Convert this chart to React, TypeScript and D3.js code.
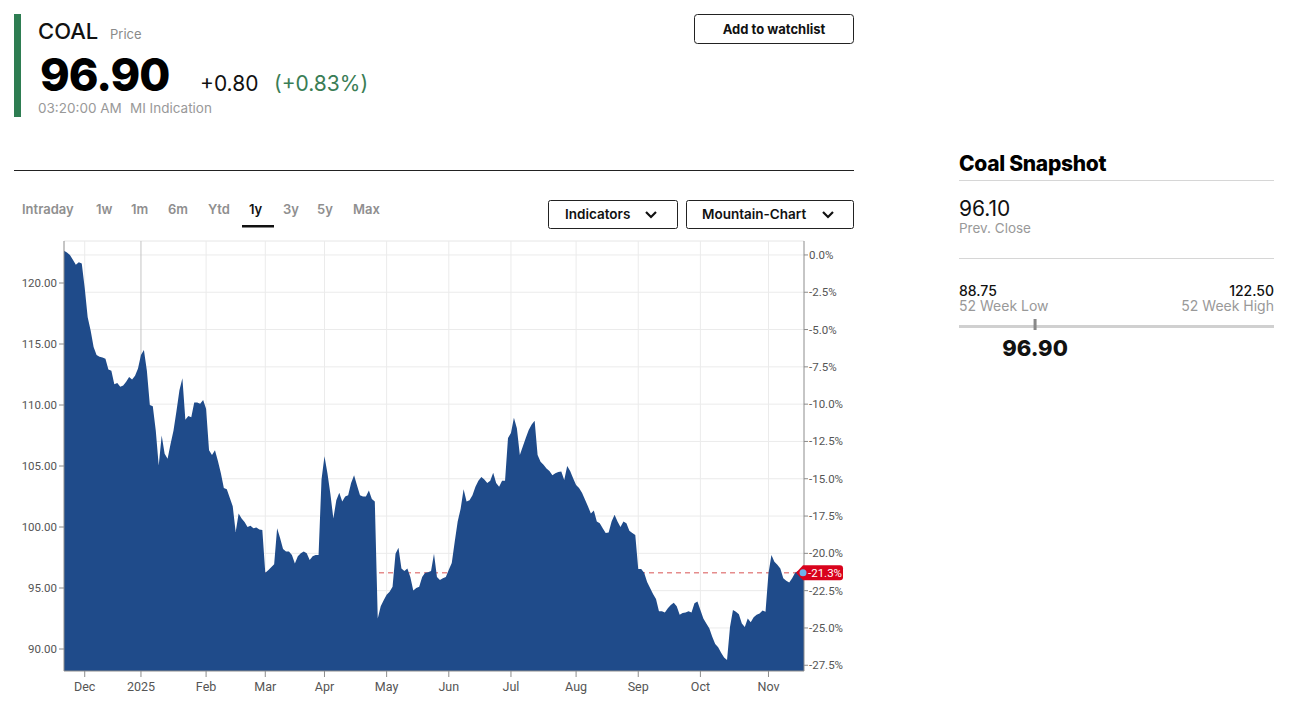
import * as d3 from "d3";

// daily closes, one per trading session (index 0 = first session shown)
const closes: number[] = [
  122.65, 122.5, 122.3, 121.9, 121.5, 121.7, 121.6, 119.6, 117.2, 116.1,
  114.75, 114.1, 113.95, 113.9, 113.8, 112.9, 112.8, 111.7, 111.8, 111.5,
  111.6, 111.9, 112.3, 112.1, 112.4, 113.0, 114.1, 114.5, 112.8, 110.0,
  109.9, 107.9, 105.05, 107.5, 106.0, 105.6, 106.8, 107.9, 109.5, 111.2,
  112.2, 108.8, 109.1, 109.0, 110.2, 110.2, 110.1, 110.4, 109.7, 106.3,
  105.9, 106.3, 105.4, 104.4, 103.2, 103.1, 102.4, 101.7, 99.6, 101.1,
  100.7, 100.4, 100.0, 100.1, 99.9, 99.95, 99.8, 99.75, 96.25, 96.45,
  96.7, 96.95, 99.9, 99.1, 98.2, 98.0, 98.0, 97.7, 97.0, 97.6,
  97.85, 98.0, 97.85, 97.3, 97.6, 97.7, 97.7, 103.9, 105.8, 104.4,
  102.7, 100.7, 102.2, 102.8, 102.1, 102.5, 102.6, 103.6, 104.25, 103.4,
  102.6, 102.5, 102.5, 103.0, 102.3, 102.1, 92.5, 93.5, 94.0, 94.45,
  94.7, 95.1, 97.8, 98.3, 96.6, 96.4, 96.6, 95.9, 94.8, 95.0,
  95.1, 95.9, 96.25, 96.3, 96.4, 97.8, 95.9, 95.65, 95.8, 95.9,
  96.5, 97.05, 98.8, 100.45, 101.5, 103.1, 102.1, 102.2, 102.6, 103.3,
  103.8, 104.1, 103.9, 103.6, 103.8, 104.45, 103.6, 103.3, 103.8, 103.8,
  107.3, 107.7, 108.95, 108.1, 105.9, 106.6, 107.3, 107.95, 108.4, 108.7,
  105.9, 105.35, 105.1, 104.8, 104.6, 104.25, 104.4, 104.5, 104.55, 103.85,
  105.0, 104.6, 104.0, 103.45, 103.2, 102.8, 102.25, 101.7, 101.1, 101.35,
  100.45, 100.3, 99.9, 99.5, 99.55, 100.45, 101.0, 100.45, 100.0, 100.45,
  100.3, 99.7, 99.5, 99.35, 96.55, 96.55, 96.25, 95.5, 95.0, 94.5,
  94.1, 93.1, 93.1, 93.0, 93.35, 93.6, 93.8, 93.5, 92.8, 92.95,
  93.0, 93.1, 93.0, 93.75, 93.9, 93.2, 92.5, 92.1, 91.7, 91.0,
  90.4, 90.15, 89.7, 89.3, 89.1, 91.8, 93.2, 93.05, 92.85, 92.1,
  91.8, 92.5, 92.2, 92.6, 92.8, 92.9, 93.15, 93.05, 96.2, 97.7,
  97.15, 96.9, 96.6, 95.8, 95.6, 95.45, 95.8, 96.25, 96.4, 96.3,
  96.25,
];

// reference close the percent axis is measured from
const baseClose = 122.3;

const monthLabels = ["Dec", "2025", "Feb", "Mar", "Apr", "May", "Jun", "Jul", "Aug", "Sep", "Oct", "Nov"];
const monthStart = [7, 26, 48, 68, 88, 109, 130, 151, 173, 194, 215, 238];

const priceTicks = [90, 95, 100, 105, 110, 115, 120];
const pctTicks = [0, -2.5, -5, -7.5, -10, -12.5, -15, -17.5, -20, -22.5, -25, -27.5];

const ranges = ["Intraday", "1w", "1m", "6m", "Ytd", "1y", "3y", "5y", "Max"];
const rangeX = [22, 96, 131, 168, 208, 249, 283, 317, 353];
const activeRange = "1y";

const lastPrice = 96.9;
const change = 0.8;
const changePct = 0.83;
const prevClose = 96.1;
const low52 = 88.75;
const high52 = 122.5;

const UI = "Inter, 'Noto Sans', sans-serif";
const AX = "'Liberation Sans Narrow', 'Roboto', sans-serif";

const plot = { left: 64, right: 804, top: 241, bottom: 671 };

function Chevron({ x, y }: { x: number; y: number }) {
  return (
    <path
      d={`M${x - 5},${y - 3} L${x},${y + 2} L${x + 5},${y - 3}`}
      fill="none"
      stroke="#111"
      strokeWidth={2.2}
    />
  );
}

export default function App() {
  const x = d3.scaleLinear().domain([0, closes.length - 1]).range([plot.left, plot.right]);
  const y = d3.scaleLinear().domain([90, 120]).range([649, 283]);
  const yPct = (p: number) => y(baseClose * (1 + p / 100));

  const area = d3
    .area<number>()
    .x((_, i) => x(i))
    .y0(plot.bottom)
    .y1((d) => y(d));

  const last = closes[closes.length - 1];
  const lastPct = (last / baseClose - 1) * 100;
  const lx = x(closes.length - 1);
  const ly = y(last);

  const range = d3.scaleLinear().domain([low52, high52]).range([959, 1274]);

  return (
    <svg
      width={1305}
      height={723}
      style={{ position: "absolute", left: 0, top: 0, background: "#fff" }}
    >
      {/* header */}
      <rect x={14} y={14} width={7} height={103} fill="#2e7d52" />
      <text x={38} y={39} fontFamily={UI} fontSize={22} fontWeight={500} fill="#111">COAL</text>
      <text x={110} y={39} fontFamily={UI} fontSize={13} fill="#8a8a8a">Price</text>
      <text x={40} y={91} fontFamily={UI} fontSize={45} fontWeight={800} fill="#000" letterSpacing={-1}>
        {lastPrice.toFixed(2)}
      </text>
      <text x={200} y={91} fontFamily={UI} fontSize={21} fill="#111">+{change.toFixed(2)}</text>
      <text x={274} y={91} fontFamily={UI} fontSize={21} fill="#3a7d55">(+{changePct.toFixed(2)}%)</text>
      <text x={38} y={113} fontFamily={UI} fontSize={13.5} fill="#999">03:20:00 AM</text>
      <text x={130} y={113} fontFamily={UI} fontSize={13.5} fill="#999">MI Indication</text>

      <rect x={694.5} y={14.5} width={159} height={29} rx={3} fill="#fff" stroke="#222" />
      <text x={774} y={34} textAnchor="middle" fontFamily={UI} fontSize={13} fontWeight={700} fill="#111">
        Add to watchlist
      </text>

      <line x1={14} x2={854} y1={170.5} y2={170.5} stroke="#222" />

      {/* range tabs */}
      {ranges.map((r, i) => (
        <text
          key={r}
          x={rangeX[i]}
          y={214}
          fontFamily={UI}
          fontSize={13}
          fontWeight={600}
          fill={r === activeRange ? "#111" : "#8f8f8f"}
        >
          {r}
        </text>
      ))}
      <rect x={242} y={225} width={32} height={2.5} fill="#111" />

      <rect x={548.5} y={200.5} width={129} height={28} rx={2} fill="#fff" stroke="#222" />
      <text x={565} y={219} fontFamily={UI} fontSize={13.5} fontWeight={600} fill="#111">Indicators</text>
      <Chevron x={651} y={215} />
      <rect x={686.5} y={200.5} width={167} height={28} rx={2} fill="#fff" stroke="#222" />
      <text x={702} y={219} fontFamily={UI} fontSize={13.5} fontWeight={600} fill="#111">Mountain-Chart</text>
      <Chevron x={828} y={215} />

      {/* grid */}
      <line x1={plot.left} x2={plot.right} y1={plot.top} y2={plot.top} stroke="#e6e6e6" />
      {pctTicks.map((p) => (
        <line key={p} x1={plot.left} x2={plot.right} y1={yPct(p)} y2={yPct(p)} stroke="#ebebeb" />
      ))}
      {monthStart.map((m, i) => (
        <line
          key={m}
          x1={x(m)}
          x2={x(m)}
          y1={plot.top}
          y2={plot.bottom}
          stroke={monthLabels[i] === "2025" ? "#c4c4c4" : "#ebebeb"}
        />
      ))}

      {/* last price line */}
      <line x1={plot.left} x2={lx} y1={ly} y2={ly} stroke="#e58c8c" strokeWidth={1.5} strokeDasharray="5,4" />

      <path d={area(closes) ?? ""} fill="#1f4b8a" />

      {/* axes */}
      <line x1={plot.left} x2={plot.left} y1={plot.top} y2={plot.bottom} stroke="#8c8c8c" />
      <line x1={plot.right} x2={plot.right} y1={plot.top} y2={plot.bottom} stroke="#8c8c8c" />
      <line x1={plot.left} x2={plot.right} y1={plot.bottom} y2={plot.bottom} stroke="#8c8c8c" />

      {priceTicks.map((t) => (
        <g key={t}>
          <line x1={plot.left - 5} x2={plot.left} y1={y(t)} y2={y(t)} stroke="#8c8c8c" />
          <text
            x={plot.left - 7}
            y={y(t) + 4}
            textAnchor="end"
            fontFamily={AX}
            fontSize={11.5}
            fill="#555"
          >
            {t.toFixed(2)}
          </text>
        </g>
      ))}
      {pctTicks.map((p) => (
        <g key={p}>
          <line x1={plot.right} x2={plot.right + 4} y1={yPct(p)} y2={yPct(p)} stroke="#8c8c8c" />
          <text x={plot.right + 5} y={yPct(p) + 4} fontFamily={AX} fontSize={11.5} fill="#555">
            {p.toFixed(1)}%
          </text>
        </g>
      ))}
      {monthStart.map((m, i) => (
        <g key={m}>
          <line x1={x(m)} x2={x(m)} y1={plot.bottom} y2={plot.bottom + 6} stroke="#8c8c8c" />
          <text x={x(m)} y={691} textAnchor="middle" fontFamily={AX} fontSize={12.5} fill="#555">
            {monthLabels[i]}
          </text>
        </g>
      ))}

      {/* last value badge */}
      <path
        d={`M${lx - 8},${ly} L${lx - 1},${ly - 7.5} H${lx + 36} Q${lx + 39},${ly - 7.5} ${lx + 39},${ly - 4.5} V${ly + 4.5} Q${lx + 39},${ly + 7.5} ${lx + 36},${ly + 7.5} H${lx - 1} Z`}
        fill="#d9021c"
      />
      <circle cx={lx - 1} cy={ly} r={3.5} fill="#6fb3ea" />
      <text x={lx + 4} y={ly + 4} fontFamily={AX} fontSize={11.5} fill="#fff">
        {lastPct.toFixed(1)}%
      </text>

      {/* snapshot panel */}
      <text x={959} y={171} fontFamily={UI} fontSize={21} fontWeight={800} fill="#000" letterSpacing={-0.3}>
        Coal Snapshot
      </text>
      <line x1={959} x2={1274} y1={180.5} y2={180.5} stroke="#d6d6d6" />
      <text x={959} y={216} fontFamily={UI} fontSize={21} fill="#111">{prevClose.toFixed(2)}</text>
      <text x={959} y={233} fontFamily={UI} fontSize={13.5} fill="#999">Prev. Close</text>
      <line x1={959} x2={1274} y1={258.5} y2={258.5} stroke="#d6d6d6" />

      <text x={959} y={296} fontFamily={UI} fontSize={14} fontWeight={500} fill="#111">{low52.toFixed(2)}</text>
      <text x={959} y={311} fontFamily={UI} fontSize={14} fill="#999">52 Week Low</text>
      <text x={1274} y={296} textAnchor="end" fontFamily={UI} fontSize={14} fontWeight={500} fill="#111">
        {high52.toFixed(2)}
      </text>
      <text x={1274} y={311} textAnchor="end" fontFamily={UI} fontSize={14} fill="#999">52 Week High</text>
      <rect x={959} y={325} width={315} height={3} fill="#d0d0d0" />
      <rect x={range(lastPrice) - 1.5} y={319} width={3} height={11} fill="#888" />
      <text
        x={range(lastPrice)}
        y={356}
        textAnchor="middle"
        fontFamily={UI}
        fontSize={22}
        fontWeight={800}
        fill="#111"
      >
        {lastPrice.toFixed(2)}
      </text>
    </svg>
  );
}
